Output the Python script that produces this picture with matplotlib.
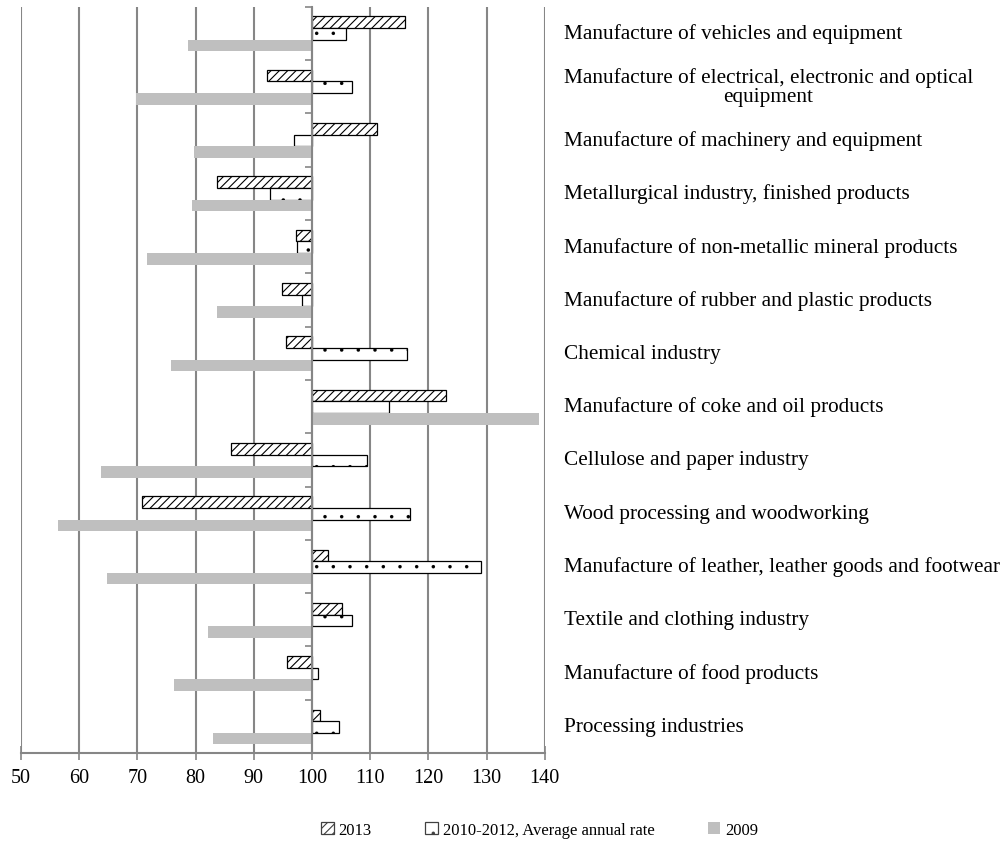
import numpy as np
import matplotlib
matplotlib.use("Agg")
import matplotlib.pyplot as plt

# categories, top to bottom as in the chart
categories = [
    "Manufacture of vehicles and equipment",
    "Manufacture of electrical, electronic and optical\nequipment",
    "Manufacture of machinery and equipment",
    "Metallurgical industry, finished products",
    "Manufacture of non-metallic mineral products",
    "Manufacture of rubber and plastic products",
    "Chemical industry",
    "Manufacture of coke and oil products",
    "Cellulose and paper industry",
    "Wood processing and woodworking",
    "Manufacture of leather, leather goods and footwear",
    "Textile and clothing industry",
    "Manufacture of food products",
    "Processing industries",
]
vals_2013 = [116.0, 92.2, 111.2, 83.6, 97.3, 94.9, 95.5, 123.1, 86.1, 70.7, 102.8, 105.1, 95.7, 101.4]
vals_2010_2012 = [105.8, 106.8, 96.9, 92.7, 97.5, 98.3, 116.4, 113.2, 109.4, 116.8, 129.0, 106.9, 101.1, 104.6]
vals_2009 = [78.7, 69.8, 79.7, 79.4, 71.7, 83.6, 75.8, 139.0, 63.7, 56.4, 64.8, 82.2, 76.3, 83.0]
legend_labels = ["2013", "2010-2012, Average annual rate", "2009"]

plt.rcParams['font.family'] = ['Liberation Serif', 'DejaVu Serif']
plt.rcParams['hatch.color'] = 'black'

fig = plt.figure(figsize=(10.05, 8.54), dpi=100)
ax = fig.add_axes([0.021, 0.117, 0.521, 0.874])

base = 100
y = np.arange(len(categories))
h = 0.218
off = 0.01


def set_hatch_lw(patches, lw):
    for p in patches:
        if hasattr(p, 'set_hatch_linewidth'):
            p.set_hatch_linewidth(lw)


plt.rcParams['hatch.linewidth'] = 0.8
b1 = ax.barh(y - h + off, np.array(vals_2013) - base, left=base, height=h,
             color='white', edgecolor='black', hatch='////', linewidth=0.9,
             label=legend_labels[0], zorder=3)
b2 = ax.barh(y + off, np.array(vals_2010_2012) - base, left=base, height=h,
             color='white', edgecolor='black', hatch='.', linewidth=0.9,
             label=legend_labels[1], zorder=3)
b3 = ax.barh(y + h + off, np.array(vals_2009) - base, left=base, height=h,
             color='#bfbfbf', edgecolor='none', label=legend_labels[2], zorder=3)
set_hatch_lw(b1, 0.8)
set_hatch_lw(b2, 0.1)

ax.set_xlim(50, 140)
ax.set_ylim(len(categories) - 0.5, -0.5)
ax.set_xticks(np.arange(50, 141, 10))
ax.grid(axis='x', color='#868686', linewidth=1.5, zorder=0)
ax.set_axisbelow(True)

# y axis crosses at 100
ax.spines['left'].set_position(('data', base))
ax.spines['left'].set_color('#868686')
ax.spines['left'].set_linewidth(1.5)
ax.spines['left'].set_zorder(4)
ax.spines['bottom'].set_color('#868686')
ax.spines['bottom'].set_linewidth(1.5)
ax.spines['top'].set_visible(False)
ax.spines['right'].set_visible(False)

ax.set_yticks(np.arange(len(categories) + 1) - 0.5)
ax.set_yticklabels([])
ax.tick_params(axis='y', direction='out', length=5, width=1.2, color='#868686')
ax.tick_params(axis='x', direction='inout', length=10, width=1.2, color='#868686',
               labelsize=14.5, pad=6)

for i, name in enumerate(categories):
    ax.annotate(name, xy=(1.036, i), xycoords=('axes fraction', 'data'),
                ha='left', va='center', multialignment='center',
                fontsize=15.3, linespacing=1.0, annotation_clip=False)

leg = fig.legend(loc='lower center', bbox_to_anchor=(0.537, 0.0), ncol=3,
                 frameon=False, fontsize=12, handlelength=0.75, handleheight=0.75,
                 handletextpad=0.3, columnspacing=3.2)
handles = leg.legend_handles
set_hatch_lw([handles[0]], 0.8)
set_hatch_lw([handles[1]], 0.1)
handles[0].set_edgecolor('#404040')
handles[1].set_edgecolor('#404040')

fig.savefig("out.png", dpi=100)
